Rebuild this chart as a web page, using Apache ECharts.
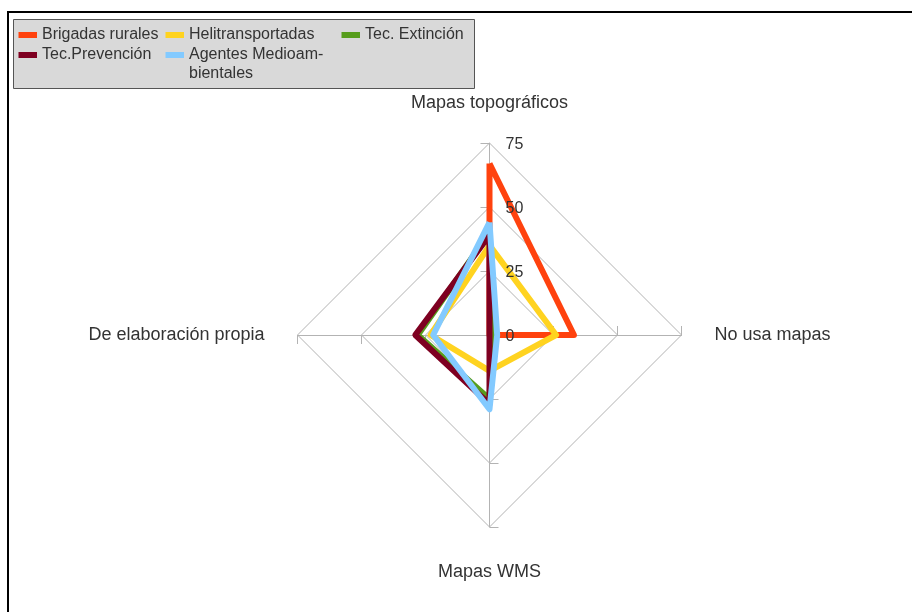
<!DOCTYPE html>
<html>
<head>
<meta charset="utf-8">
<script src="https://cdn.jsdelivr.net/npm/echarts@6/dist/echarts.min.js"></script>
<style>
html,body{margin:0;padding:0;background:#fff;}
#main{width:912px;height:612px;}
</style>
</head>
<body>
<div id="main"></div>
<script>
// Indicators in drawing order (counterclockwise from top)
const indicators = ['Mapas topográficos', 'De elaboración propia', 'Mapas WMS', 'No usa mapas'];
const axisMax = 75;
const tickLabels = ['0', '25', '50', '75'];

const seriesNames = ['Brigadas rurales', 'Helitransportadas', 'Tec. Extinción', 'Tec.Prevención', 'Agentes Medioam-\nbientales'];
const brigadas     = [67, 0, 0, 33];
const helitrans    = [35, 23, 14, 26];
const extincion    = [40, 28, 25, 1];
const prevencion   = [39, 29, 27, 0];
const agentes      = [44, 22, 29, 3];
const seriesValues = [brigadas, helitrans, extincion, prevencion, agentes];
const colors = ['#ff420e', '#ffd320', '#579d1c', '#7e0021', '#83caff'];

const chart = echarts.init(document.getElementById('main'), null, {renderer: 'canvas'});

const FONT = 'Liberation Sans, Arial, sans-serif';
const legendPos = [
  {left: 18.5, top: 25.5},
  {left: 165.5, top: 25.5},
  {left: 341.5, top: 25.5},
  {left: 18.5, top: 45.5},
  {left: 165.5, top: 26.5}
];

const legends = seriesNames.map((n, i) => ({
  data: [n],
  left: legendPos[i].left,
  top: legendPos[i].top,
  padding: 0,
  icon: 'rect',
  itemWidth: 18.5,
  itemHeight: 6,
  itemGap: 0,
  selectedMode: false,
  formatter: i === 4 ? function (name) { return '\n' + name; } : '{name}',
  textStyle: {
    fontFamily: FONT,
    fontSize: 16,
    color: '#333',
    lineHeight: 19
  }
}));

const nameGaps = [31, 33, 36, 33];
const CENTER = [489.5, 335];
const RADIUS = 192;

const option = {
  backgroundColor: '#fff',
  animation: false,
  color: colors,
  graphic: [
    {type: 'rect', shape: {x: 8, y: 12, width: 930, height: 640}, style: {fill: 'none', stroke: '#000', lineWidth: 2}, z: 0},
    {type: 'rect', shape: {x: 13.5, y: 19.5, width: 461, height: 69}, style: {fill: '#d9d9d9', stroke: '#555', lineWidth: 1}, z: 0}
  ],
  legend: legends,
  radar: [{
    // grid, ticks and axis names
    center: CENTER,
    radius: RADIUS,
    startAngle: 90,
    shape: 'polygon',
    splitNumber: 3,
    nameGap: 33,
    z: 0,
    axisName: {color: '#333', fontFamily: FONT, fontSize: 18},
    axisLine: {lineStyle: {color: '#b3b3b3', width: 1}},
    splitLine: {lineStyle: {color: '#b3b3b3', width: 1}},
    splitArea: {show: false},
    axisTick: {show: true, length: 9, lineStyle: {color: '#b3b3b3'}},
    axisLabel: {show: false},
    indicator: indicators.map((n, i) => ({name: n, min: 0, max: axisMax, nameGap: nameGaps[i]}))
  }, {
    // value labels drawn above the series lines
    center: CENTER,
    radius: RADIUS,
    startAngle: 90,
    shape: 'polygon',
    splitNumber: 3,
    z: 5,
    axisName: {show: false},
    axisLine: {show: false},
    splitLine: {show: false},
    splitArea: {show: false},
    axisTick: {show: false},
    axisLabel: {show: false},
    indicator: indicators.map((n, i) => ({
      name: n, min: 0, max: axisMax,
      axisLabel: {
        show: i === 0,
        color: '#333', fontFamily: FONT, fontSize: 16, margin: -16, align: 'left',
        formatter: function (v) {
          const k = Math.round(v / 25);
          return '{a|' + (tickLabels[k] !== undefined ? tickLabels[k] : String(v)) + '}';
        },
        rich: {a: {color: '#333', fontFamily: FONT, fontSize: 16, padding: [4, 0, 0, 0]}}
      }
    }))
  }],
  series: [{
    type: 'radar',
    radarIndex: 0,
    symbol: 'none',
    z: 2,
    data: seriesNames.map((n, i) => ({
      name: n,
      value: seriesValues[i],
      lineStyle: {color: colors[i], width: 6, join: 'round'},
      itemStyle: {color: colors[i]}
    }))
  }]
};
chart.setOption(option);
</script>
</body>
</html>
